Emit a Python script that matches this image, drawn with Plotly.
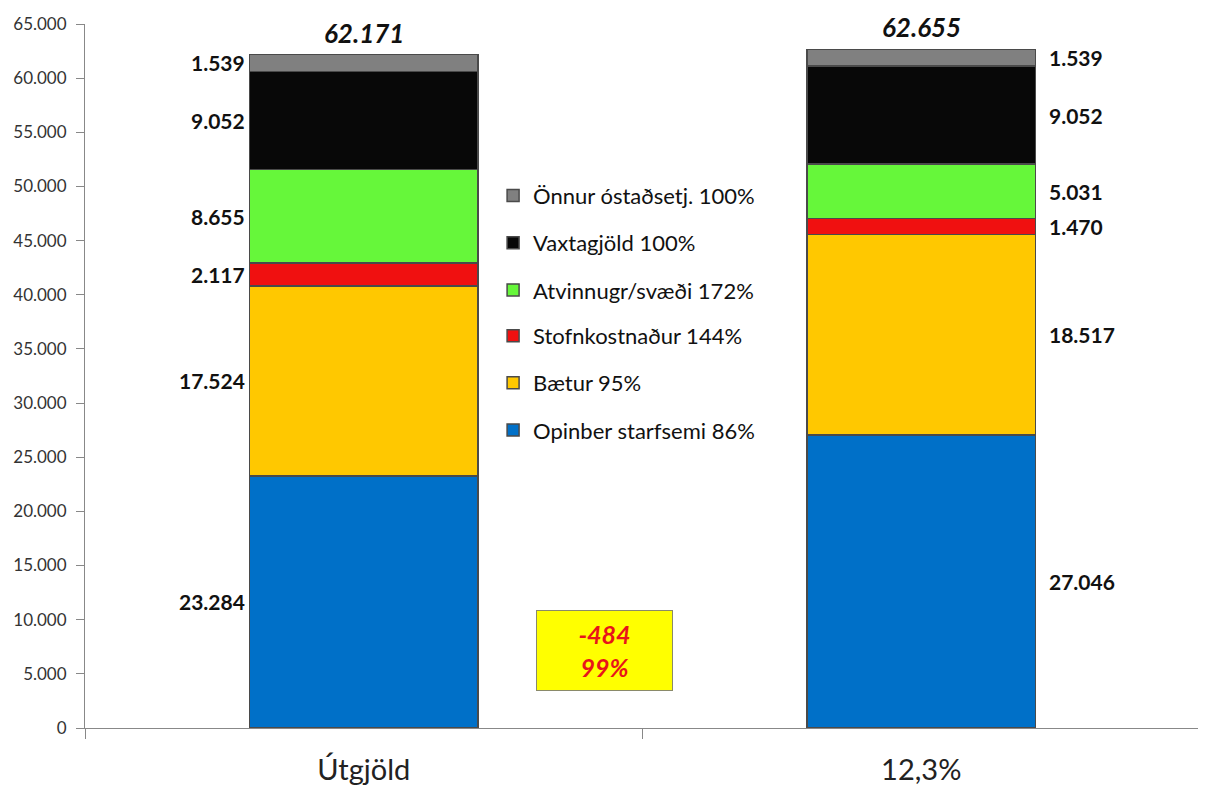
import plotly.graph_objects as go

categories = ["Útgjöld", "12,3%"]
series_names = ["Opinber starfsemi 86%", "Bætur 95%", "Stofnkostnaður 144%",
                "Atvinnugr/svæði 172%", "Vaxtagjöld 100%", "Önnur óstaðsetj. 100%"]
opinber = [23284, 27046]
baetur = [17524, 18517]
stofn = [2117, 1470]
atvinnu = [8655, 5031]
vaxta = [9052, 9052]
onnur = [1539, 1539]
colors = ["#0070C8", "#FFC800", "#F01010", "#66F73A", "#080808", "#808080"]

series = [opinber, baetur, stofn, atvinnu, vaxta, onnur]

def fmt(v):
    return f"{v:,}".replace(",", ".")

fig = go.Figure()
legend_y = [0.423, 0.490, 0.557, 0.622, 0.689, 0.756]
for i, (name, vals, col) in enumerate(zip(series_names, series, colors)):
    lg = "legend" if i == 0 else f"legend{i+1}"
    fig.add_trace(go.Bar(
        x=categories, y=vals, name=name, legend=lg,
        marker=dict(color=col, line=dict(color="#4a4a4a", width=1.5)),
        width=0.41,
    ))

layout_legends = {}
for i in range(6):
    key = "legend" if i == 0 else f"legend{i+1}"
    layout_legends[key] = dict(
        x=0.366, y=legend_y[i], xanchor="left", yanchor="middle",
        font=dict(family="Lato", size=22, color="#111"),
        bgcolor="rgba(0,0,0,0)", borderwidth=0, itemwidth=30,
    )

annotations = []
for ci, cat in enumerate(categories):
    base = 0
    for vals in series:
        v = vals[ci]
        mid = base + v / 2
        base += v
        annotations.append(dict(
            x=cat, y=mid, xref="x", yref="y", text=f"<b>{fmt(v)}</b>",
            showarrow=False, xanchor="right" if ci == 0 else "left",
            xshift=-117 if ci == 0 else 126,
            font=dict(family="Lato", size=21, color="#111"),
        ))
    annotations.append(dict(
        x=cat, y=base, xref="x", yref="y", text=f"<b><i>{fmt(base)}</i></b>",
        showarrow=False, yanchor="bottom", yshift=4,
        font=dict(family="Lato", size=26, color="#111"),
    ))

tot0 = sum(s[0] for s in series)
tot1 = sum(s[1] for s in series)
diff = tot0 - tot1
pct = round(tot0 / tot1 * 100)
annotations.append(dict(
    x=0.432, y=7200, xref="x", yref="y",
    text=f"<b><i>{fmt(diff)}<br>{pct}%</i></b>",
    showarrow=False, bgcolor="#FFFF00", bordercolor="#8a8a6a", borderwidth=1,
    width=133, height=77, align="center", valign="middle",
    font=dict(family="Lato", size=25, color="#E8141A"),
))

fig.update_layout(
    barmode="stack",
    width=1198, height=780,
    margin=dict(l=77, r=6, t=16, b=60),
    plot_bgcolor="white", paper_bgcolor="white",
    separators=",.",
    showlegend=True,
    annotations=annotations,
    **layout_legends,
)
fig.update_xaxes(
    type="category", showline=True, linecolor="#888", linewidth=1,
    ticks="outside", tickson="boundaries", ticklen=10, tickcolor="#888",
    tickfont=dict(family="Lato", size=29, color="#222"), showgrid=False,
    range=[-0.5, 1.5], automargin=False, ticklabelstandoff=16,
)
fig.update_yaxes(
    range=[0, 65000], dtick=5000, tickformat=",d", showline=True,
    linecolor="#888", linewidth=1, ticks="outside", ticklen=8, tickcolor="#888",
    tickfont=dict(family="Lato", size=17, color="#333"), showgrid=False,
    zeroline=False, automargin=False, ticklabelstandoff=6,
)

fig.write_html("out.html")
